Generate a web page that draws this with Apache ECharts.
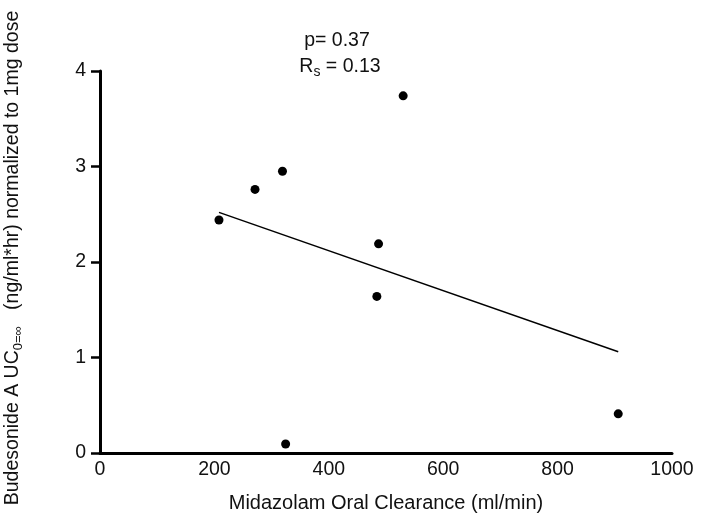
<!DOCTYPE html>
<html>
<head>
<meta charset="utf-8">
<script src="https://cdn.jsdelivr.net/npm/echarts@6/dist/echarts.min.js"></script>
<style>html,body{margin:0;padding:0;background:#fff;}#chart{width:701px;height:520px;}</style>
</head>
<body>
<div id="chart"></div>
<script>
// Data
var clearance = [208, 271, 319, 324.5, 484, 487, 530, 906];
var aucNorm   = [2.44, 2.76, 2.95, 0.094, 1.64, 2.19, 3.74, 0.41];
var fitX = [208, 906];
var fitY = [2.52, 1.06];
var xTicks = [0, 200, 400, 600, 800, 1000];
var yTicks = [0, 1, 2, 3, 4];
var xTitle = 'Midazolam Oral Clearance (ml/min)';
var yTitleMain = 'Budesonide A UC';
var yTitleSub = '0=\u221E';
var yTitleRest = '   (ng/ml*hr) normalized to 1mg dose';
var pText = 'p= 0.37';
var rsText = ['R', 's', ' = 0.13'];

var FONT = 'Liberation Sans, Arial, sans-serif';
var pts = clearance.map(function (x, i) { return [x, aucNorm[i]]; });
var fit = fitX.map(function (x, i) { return [x, fitY[i]]; });

var chart = echarts.init(document.getElementById('chart'));
chart.setOption({
  backgroundColor: '#fff',
  animation: false,
  grid: { left: 100, right: 29, top: 71, bottom: 67, containLabel: false },
  xAxis: {
    type: 'value', min: xTicks[0], max: xTicks[xTicks.length - 1], interval: 200,
    splitLine: { show: false },
    axisLine: { lineStyle: { color: '#000', width: 3 } },
    axisTick: { show: false },
    axisLabel: { fontFamily: FONT, fontSize: 19.5, color: '#111', margin: 7,
      formatter: function (v) { return String(v); } },
    name: xTitle, nameLocation: 'middle', nameGap: 40,
    nameTextStyle: { fontFamily: FONT, fontSize: 20, color: '#111' }
  },
  yAxis: {
    type: 'value', min: yTicks[0], max: yTicks[yTicks.length - 1], interval: 1,
    splitLine: { show: false },
    axisLine: { lineStyle: { color: '#000', width: 3 } },
    axisTick: { show: true, inside: false, length: 9, lineStyle: { color: '#000', width: 2.5 } },
    axisLabel: { fontFamily: FONT, fontSize: 19.5, color: '#111', margin: 14 }
  },
  series: [
    {
      type: 'scatter', data: pts, symbol: 'circle', symbolSize: 9,
      itemStyle: { color: '#000', opacity: 1 }, z: 3
    },
    {
      type: 'line', data: fit, symbol: 'none',
      lineStyle: { color: '#000', width: 1.5 }, z: 2
    }
  ],
  graphic: [
    {
      type: 'text', x: 337, y: 41,
      style: { text: pText, fontFamily: FONT, fontSize: 19.5, fill: '#111', align: 'center', verticalAlign: 'middle' }
    },
    {
      type: 'text', x: 340, y: 67,
      style: {
        text: '{a|' + rsText[0] + '}{s|' + rsText[1] + '}{a|' + rsText[2] + '}',
        fontFamily: FONT, fill: '#111', align: 'center', verticalAlign: 'middle',
        rich: {
          a: { fontFamily: FONT, fontSize: 19.5, fill: '#111', lineHeight: 22 },
          s: { fontFamily: FONT, fontSize: 14, fill: '#111', padding: [10, 0, 0, 0] }
        }
      }
    },
    {
      type: 'text', x: 13, y: 258, rotation: Math.PI / 2,
      style: {
        text: '{a|' + yTitleMain + '}{s|' + yTitleSub + '}{a|' + yTitleRest + '}',
        fontFamily: FONT, fill: '#111', align: 'center', verticalAlign: 'middle',
        rich: {
          a: { fontFamily: FONT, fontSize: 19.5, fill: '#111', lineHeight: 22 },
          s: { fontFamily: FONT, fontSize: 13, fill: '#111', padding: [10, 0, 0, 0] }
        }
      }
    }
  ]
});
</script>
</body>
</html>
